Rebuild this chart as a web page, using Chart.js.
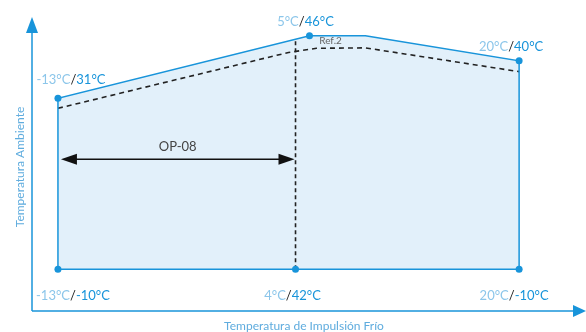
<!DOCTYPE html>
<html>
<head>
<meta charset="utf-8">
<script src="https://cdn.jsdelivr.net/npm/chart.js@4"></script>
<style>
  body { margin: 0; background: #fff; }
  canvas { display: block; }
</style>
</head>
<body>
<canvas id="myChart" width="586" height="332"></canvas>
<script>
// envelope limits (x = impulsion temp, y = ambient temp)
var envelopeX = [-13, 5, 9, 20];
var envelopeY = [31, 46, 46, 40];
var floorTemp = -10;

// Ref.2 dashed limit
var refX = [-13, 3.5, 5.5, 9, 20];
var refY = [28.6, 42.0, 43.0, 43.1, 37.4];

// OP-08 split line
var splitX = 4;
var splitTop = 45.4;
var opY = 16.4;

// labelled corner points
var markX = [-13, 5, 20, -13, 4, 20];
var markY = [31, 46, 40, -10, -10, -10];
var labelImp = ["-13°C", "5°C", "20°C", "-13°C", "4°C", "20°C"];
var labelAmb = ["31°C", "46°C", "40°C", "-10°C", "42°C", "-10°C"];

var BLUE = "rgb(24, 148, 218)";
var LIGHT = "rgb(140, 198, 234)";
var FONT = "Lato";

function pts(xs, ys) {
  return xs.map(function (x, i) { return { x: x, y: ys[i] }; });
}

var outline = [{ x: envelopeX[0], y: floorTemp }]
  .concat(pts(envelopeX, envelopeY))
  .concat([{ x: envelopeX[envelopeX.length - 1], y: floorTemp }, { x: envelopeX[0], y: floorTemp }]);

// label offsets from their point (centre of text)
var labelOffsets = [[13, -19], [-4, -14], [-8, -14], [15, 27], [-3, 27], [-5, 27]];

var decor = {
  id: "decor",
  afterDatasetsDraw: function (chart) {
    var c = chart.ctx, xs = chart.scales.x, ys = chart.scales.y, a = chart.chartArea;
    c.save();
    // axes with arrows
    var ax = a.left + 2, ay = a.bottom;
    c.strokeStyle = BLUE; c.fillStyle = BLUE; c.lineWidth = 1.5;
    c.beginPath(); c.moveTo(ax, ay); c.lineTo(ax, a.top + 16); c.stroke();
    c.beginPath(); c.moveTo(ax, ay); c.lineTo(a.right - 9, ay); c.stroke();
    c.beginPath(); c.moveTo(ax, a.top); c.lineTo(ax - 6, a.top + 16); c.lineTo(ax + 6, a.top + 16); c.closePath(); c.fill();
    c.beginPath(); c.moveTo(a.right + 4, ay); c.lineTo(a.right - 9, ay - 6); c.lineTo(a.right - 9, ay + 6); c.closePath(); c.fill();

    // axis titles
    c.fillStyle = "rgb(95, 172, 222)";
    c.font = "12px " + FONT;
    c.textAlign = "center"; c.textBaseline = "middle";
    c.fillText("Temperatura de Impulsión Frío", 304, 326);
    c.save(); c.translate(20, 167); c.rotate(-Math.PI / 2);
    c.fillText("Temperatura Ambiente", 0, 0);
    c.restore();

    // OP-08 double arrow
    var x1 = xs.getPixelForValue(envelopeX[0]) + 3, x2 = xs.getPixelForValue(splitX) - 1, y = ys.getPixelForValue(opY);
    c.strokeStyle = "#111"; c.fillStyle = "#111"; c.lineWidth = 1.5;
    c.beginPath(); c.moveTo(x1 + 10, y); c.lineTo(x2 - 10, y); c.stroke();
    c.beginPath(); c.moveTo(x1, y); c.lineTo(x1 + 16, y - 5.5); c.lineTo(x1 + 16, y + 5.5); c.closePath(); c.fill();
    c.beginPath(); c.moveTo(x2, y); c.lineTo(x2 - 16, y - 5.5); c.lineTo(x2 - 16, y + 5.5); c.closePath(); c.fill();
    c.fillStyle = "#444"; c.font = "13px " + FONT;
    c.fillText("OP-08", (x1 + x2) / 2, y - 12);

    // Ref.2
    c.fillStyle = "#666"; c.font = "10px " + FONT;
    c.fillText("Ref.2", xs.getPixelForValue(envelopeX[1]) + 21, ys.getPixelForValue(envelopeY[1]) + 5);

    // point labels
    c.font = "13px " + FONT; c.textAlign = "left";
    for (var i = 0; i < markX.length; i++) {
      var t1 = labelImp[i], t2 = "/", t3 = labelAmb[i];
      var w1 = c.measureText(t1).width, w2 = c.measureText(t2).width, w3 = c.measureText(t3).width;
      var cx = xs.getPixelForValue(markX[i]) + labelOffsets[i][0];
      var cy = ys.getPixelForValue(markY[i]) + labelOffsets[i][1];
      var sx = cx - (w1 + w2 + w3) / 2;
      c.fillStyle = LIGHT; c.fillText(t1, sx, cy);
      c.fillStyle = "#222"; c.fillText(t2, sx + w1, cy);
      c.fillStyle = BLUE; c.fillText(t3, sx + w1 + w2, cy);
    }
    c.restore();
  }
};

// note: chart.js draws the last dataset first, so the area goes last
var chart = new Chart(document.getElementById("myChart").getContext("2d"), {
  type: "scatter",
  data: {
    datasets: [
      {
        // corner points
        data: pts(markX, markY),
        showLine: false,
        pointRadius: 3.5,
        pointBackgroundColor: BLUE,
        pointBorderWidth: 0
      },
      {
        // outline
        data: outline,
        showLine: true,
        borderColor: BLUE,
        borderWidth: 1.5,
        pointRadius: 0,
        fill: false
      },
      {
        // Ref.2 dashed
        data: pts(refX, refY),
        showLine: true,
        borderColor: "#222",
        borderWidth: 1.6,
        borderDash: [5, 4],
        pointRadius: 0,
        fill: false
      },
      {
        // split line
        data: [{ x: splitX, y: floorTemp }, { x: splitX, y: splitTop }],
        showLine: true,
        borderColor: "#222",
        borderWidth: 1.6,
        borderDash: [4, 3],
        pointRadius: 0,
        fill: false
      },
      {
        // area
        data: pts(envelopeX, envelopeY),
        showLine: true,
        borderWidth: 0,
        pointRadius: 0,
        backgroundColor: "rgb(226, 240, 250)",
        fill: { value: floorTemp }
      }
    ]
  },
  options: {
    responsive: false,
    animation: false,
    layout: { padding: { left: 30, right: 4, top: 17, bottom: 21 } },
    plugins: { legend: { display: false }, tooltip: { enabled: false } },
    scales: {
      x: { type: "linear", min: -15, max: 24.5, display: false },
      y: { type: "linear", min: -20, max: 50.5, display: false }
    }
  },
  plugins: [decor]
});
</script>
</body>
</html>
